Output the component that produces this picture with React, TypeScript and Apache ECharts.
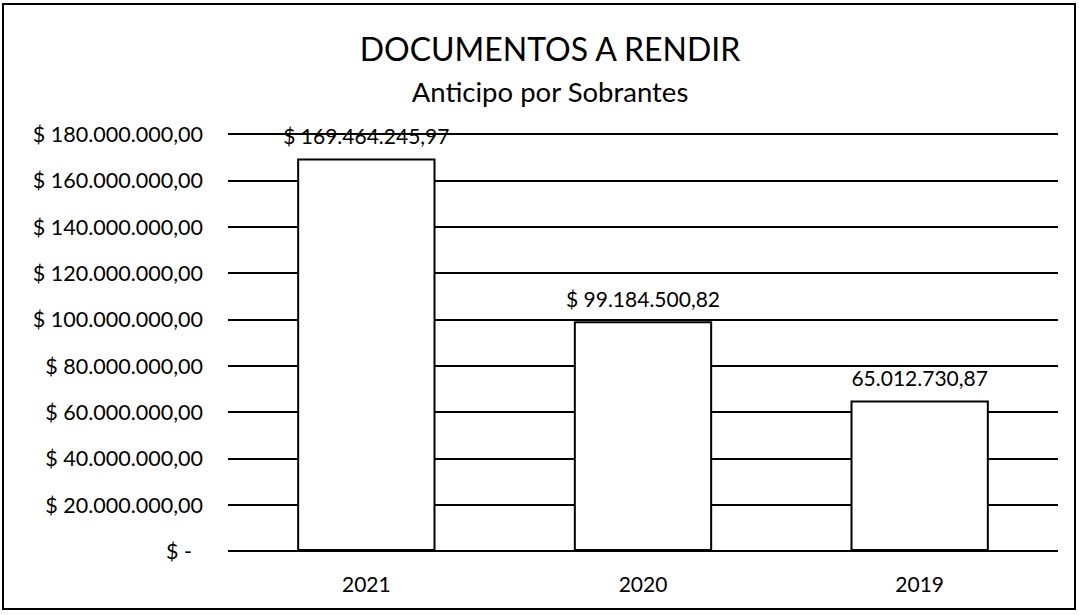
import React, { useEffect, useRef } from "react";
import * as echarts from "echarts";

const categories = ["2021", "2020", "2019"];
const values = [169464245.97, 99184500.82, 65012730.87];
const valueLabels = ["$ 169.464.245,97", "$ 99.184.500,82", "65.012.730,87"];
const titleText = "DOCUMENTOS A RENDIR";
const subtitleText = "Anticipo por Sobrantes";
const yMin = 0;
const yMax = 180000000;
const yInterval = 20000000;

const FONT = "Lato, 'Open Sans', sans-serif";

function fmtAxis(v: number): string {
  if (v === 0) return "$ -  ";
  const s = Math.round(v).toString().replace(/\B(?=(\d{3})+(?!\d))/g, ".");
  return "$ " + s + ",00";
}

export default function App() {
  const ref = useRef<HTMLDivElement>(null);
  useEffect(() => {
    document.body.style.margin = "0";
    if (!ref.current) return;
    const chart = echarts.init(ref.current, undefined, { renderer: "svg" });
    chart.setOption({
      animation: false,
      backgroundColor: "#ffffff",
      title: {
        text: titleText,
        subtext: subtitleText,
        left: 545,
        textAlign: "center",
        top: 27,
        itemGap: 13,
        textStyle: { fontFamily: FONT, fontSize: 32, fontWeight: "normal", color: "#000" },
        subtextStyle: { fontFamily: FONT, fontSize: 27.5, color: "#000" },
      },
      grid: { left: 228, right: 21, top: 134, bottom: 64, containLabel: false },
      xAxis: {
        type: "category",
        data: categories,
        axisLine: { show: false },
        axisTick: { show: false },
        axisLabel: { fontFamily: FONT, fontSize: 21, color: "#000", margin: 22 },
      },
      yAxis: {
        type: "value",
        min: yMin,
        max: yMax,
        interval: yInterval,
        axisLine: { show: false },
        axisTick: { show: false },
        splitLine: { lineStyle: { color: "#000", width: 2 } },
        axisLabel: {
          fontFamily: FONT,
          fontSize: 21.5,
          color: "#000",
          margin: 25,
          formatter: (v: number) => fmtAxis(v),
        },
      },
      series: [
        {
          type: "bar",
          data: values,
          barWidth: "50%",
          itemStyle: { color: "#ffffff", borderColor: "#000", borderWidth: 2 },
          label: {
            show: true,
            position: "top",
            distance: 12,
            fontFamily: FONT,
            fontSize: 21,
            color: "#000",
            formatter: (p: any) => valueLabels[p.dataIndex],
          },
        },
      ],
      graphic: [
        {
          type: "rect",
          shape: { x: 3, y: 4, width: 1072, height: 605 },
          style: { fill: "none", stroke: "#000", lineWidth: 2 },
          silent: true,
        },
      ],
    });
    return () => chart.dispose();
  }, []);
  return <div ref={ref} style={{ width: 1079, height: 615 }} />;
}
